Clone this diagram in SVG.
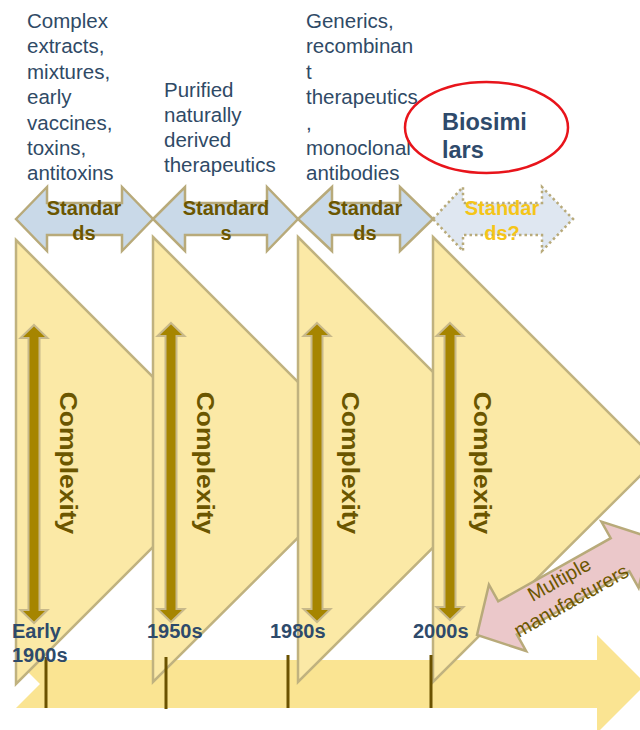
<svg xmlns="http://www.w3.org/2000/svg" width="640" height="730" viewBox="0 0 640 730">
<style>
.top{font-family:"Liberation Sans",Arial,sans-serif;font-size:20.5px;fill:#2f4a66}
.yr{font-family:"Liberation Sans",Arial,sans-serif;font-size:20px;font-weight:bold;fill:#2e4a6b}
.std{font-family:"Liberation Sans",Arial,sans-serif;font-size:20px;font-weight:bold;fill:#6b5600;text-anchor:middle}
.cx{font-family:"Liberation Sans",Arial,sans-serif;font-size:23px;font-weight:bold;fill:#6b5600;text-anchor:middle}
.tri{fill:#fbe9a6;stroke:#c0b27f;stroke-width:2.5}
.sarrow{fill:#c9d9e8;stroke:#b8aa7a;stroke-width:2.5}
.carrow{fill:#a68500;stroke:#c8b98a;stroke-width:2}
.tick{stroke:#6b5200;stroke-width:3}
</style>
<g id="timeline">
<polygon points="16,660 597,660 597,635 646,684 597,733 597,708 16,708 40,684" fill="#fae492"/>
</g>
<g id="era1"><polygon class="tri" points="16,240 238,462 16,684"/></g>
<g id="era2"><polygon class="tri" points="153,237 376,460 153,682"/></g>
<g id="era3"><polygon class="tri" points="298,237 521,460 298,682"/></g>
<g id="era4"><polygon class="tri" points="433,237 656,460 433,682"/></g>
<g id="complexity1">
<path class="carrow" d="M34,325 L47.5,338 L39.5,338 L39.5,610 L47.5,610 L34,623 L20.5,610 L28.5,610 L28.5,338 L20.5,338 Z"/>
<text class="cx" transform="translate(60,463) rotate(90) scale(1.15,1)">Complexity</text>
</g>
<g id="complexity2">
<path class="carrow" d="M171,323 L184.5,336 L176.5,336 L176.5,609 L184.5,609 L171,622 L157.5,609 L165.5,609 L165.5,336 L157.5,336 Z"/>
<text class="cx" transform="translate(197,463) rotate(90) scale(1.15,1)">Complexity</text>
</g>
<g id="complexity3">
<path class="carrow" d="M317,323 L330.5,336 L322.5,336 L322.5,609 L330.5,609 L317,622 L303.5,609 L311.5,609 L311.5,336 L303.5,336 Z"/>
<text class="cx" transform="translate(342,463) rotate(90) scale(1.15,1)">Complexity</text>
</g>
<g id="complexity4">
<path class="carrow" d="M450,323 L463.5,336 L455.5,336 L455.5,607 L463.5,607 L450,620 L436.5,607 L444.5,607 L444.5,336 L436.5,336 Z"/>
<text class="cx" transform="translate(474,463) rotate(90) scale(1.15,1)">Complexity</text>
</g>
<g id="ticks">
<line class="tick" x1="46" y1="657" x2="46" y2="708"/>
<line class="tick" x1="166" y1="657" x2="166" y2="709"/>
<line class="tick" x1="288" y1="655" x2="288" y2="708"/>
<line class="tick" x1="431" y1="655" x2="431" y2="708"/>
</g>
<g id="years">
<text class="yr" x="12" y="638">Early</text>
<text class="yr" x="12" y="662">1900s</text>
<text class="yr" x="147" y="638">1950s</text>
<text class="yr" x="270" y="638">1980s</text>
<text class="yr" x="413" y="638">2000s</text>
</g>
<g id="standards1">
<polygon class="sarrow" points="16,219 47,187 47,203 122,203 122,187 153,219 122,251 122,235 47,235 47,251"/>
<text class="std" x="84" y="215">Standar</text>
<text class="std" x="84" y="240">ds</text>
</g>
<g id="standards2">
<polygon class="sarrow" points="153,219 185,187 185,203 267,203 267,187 298,219 267,251 267,235 185,235 185,251"/>
<text class="std" x="226" y="215">Standard</text>
<text class="std" x="226" y="240">s</text>
</g>
<g id="standards3">
<polygon class="sarrow" points="298,219 332,187 332,203 400,203 400,187 433,219 400,251 400,235 332,235 332,251"/>
<text class="std" x="365" y="215">Standar</text>
<text class="std" x="365" y="240">ds</text>
</g>
<g id="standards4">
<polygon points="433,219 463,187 463,203 542,203 542,187 573,219 542,251 542,235 463,235 463,251" fill="#dfe7f1" stroke="#b8aa7a" stroke-width="2.5" stroke-dasharray="2.5,3"/>
<text class="std" x="502" y="215" style="fill:#f5c518">Standar</text>
<text class="std" x="502" y="240" style="fill:#f5c518">ds?</text>
</g>
<g id="manufacturers" transform="translate(477,635) rotate(-29.3)">
<path d="M0,0 L35,-38 L35,-19 L164,-19 L164,-38 L199,0 L164,38 L164,19 L35,19 L35,38 Z" fill="#ebc8ca" stroke="#b8aa7a" stroke-width="2.5"/>
<text x="99" y="-1.5" font-family="Liberation Sans, Arial, sans-serif" font-size="20" fill="#6b5600" text-anchor="middle">Multiple</text>
<text x="99" y="23" font-family="Liberation Sans, Arial, sans-serif" font-size="20" fill="#6b5600" text-anchor="middle">manufacturers</text>
</g>
<g id="label1">
<text class="top" x="27" y="28">Complex</text>
<text class="top" x="27" y="53">extracts,</text>
<text class="top" x="27" y="79">mixtures,</text>
<text class="top" x="27" y="104">early</text>
<text class="top" x="27" y="130">vaccines,</text>
<text class="top" x="27" y="155">toxins,</text>
<text class="top" x="27" y="180">antitoxins</text>
</g>
<g id="label2">
<text class="top" x="164" y="97">Purified</text>
<text class="top" x="164" y="122">naturally</text>
<text class="top" x="164" y="147">derived</text>
<text class="top" x="164" y="172">therapeutics</text>
</g>
<g id="label3">
<text class="top" x="306" y="28">Generics,</text>
<text class="top" x="306" y="53">recombinan</text>
<text class="top" x="306" y="79">t</text>
<text class="top" x="306" y="104">therapeutics</text>
<text class="top" x="306" y="130">,</text>
<text class="top" x="306" y="155">monoclonal</text>
<text class="top" x="306" y="180">antibodies</text>
</g>
<g id="biosimilars">
<ellipse cx="486.5" cy="127.5" rx="81.5" ry="45.5" fill="none" stroke="#e8141b" stroke-width="2.5"/>
<text x="442" y="130" font-family="Liberation Sans, Arial, sans-serif" font-size="23.5" font-weight="bold" fill="#2e4a6b">Biosimi</text>
<text x="442" y="158" font-family="Liberation Sans, Arial, sans-serif" font-size="23.5" font-weight="bold" fill="#2e4a6b">lars</text>
</g>
</svg>
